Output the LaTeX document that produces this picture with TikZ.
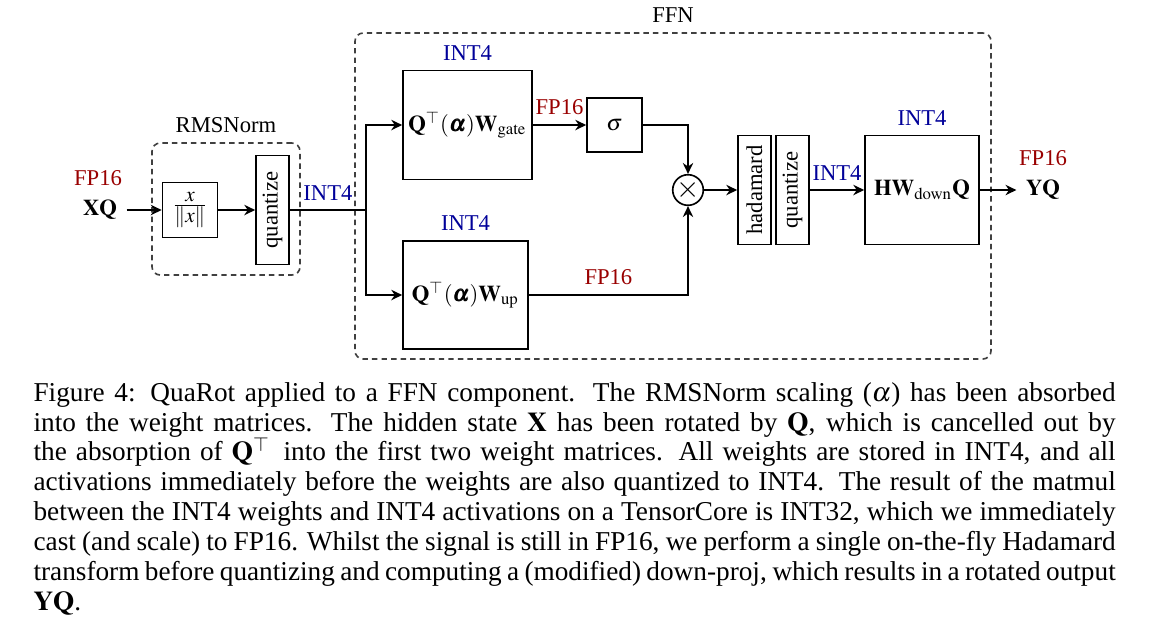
\documentclass[tikz,border=0pt]{standalone}
\usepackage{mathptmx}
\usepackage{bm}
\usepackage{graphicx}
\usepackage{fontspec}
\setmainfont{Liberation Serif}
\usetikzlibrary{arrows.meta,positioning}

\colorlet{fpred}{red!60!black}
\colorlet{intblue}{blue!60!black}
\def\pxu{0.0129cm}
\newcommand\capline[1]{\hbox to 397pt{#1}}

\begin{document}
\begin{tikzpicture}[x=0.0129cm, y=-0.0129cm,
    font=\fontsize{8.3}{10}\selectfont,
    box/.style={draw, semithick, inner sep=0pt},
    flow/.style={semithick, -{Stealth[length=4pt, width=3.8pt, inset=1.3pt]}},
    fp/.style={text=fpred},
    int/.style={text=intblue},
    group/.style={draw=black!75, semithick, dash pattern=on 2pt off 1.5pt,
        rounded corners=3pt, inner sep=0pt}]
    \useasboundingbox (0,0) rectangle (1155,625);

    % Dashed groups: RMSNorm and FFN
    \node[group, minimum width=148*\pxu, minimum height=132*\pxu] (rmsbox) at (226,209) {};
    \node[above=0pt of rmsbox] (rmslabel) {RMSNorm};
    \node[group, minimum width=636*\pxu, minimum height=326*\pxu] (ffnbox) at (673,196) {};
    \node[above=0pt of ffnbox] (ffnlabel) {FFN};

    % Input
    \node[fp] (xqfmt) at (98,178) {FP16};
    \node (xq) at (100,210) {$\mathbf{XQ}$};

    % RMSNorm blocks
    \node[box, minimum width=55*\pxu, minimum height=55*\pxu, font=\fontsize{10.5}{12}\selectfont]
        (norm) at (190,210) {$\frac{x}{\|x\|}$};
    \node[box, minimum width=33*\pxu, minimum height=109*\pxu] (quant1) at (272.5,210) {\rotatebox{90}{quantize}};
    \coordinate (split) at (366,210);

    % Gate and up projections
    \node[box, minimum width=129*\pxu, minimum height=109*\pxu] (gate) at (467.5,125)
        {$\mathbf{Q}^{\top}(\bm{\alpha})\mathbf{W}_{\mathrm{gate}}$};
    \node[int, above=0pt of gate] (gatefmt) {INT4};
    \node[box, minimum width=125*\pxu, minimum height=108*\pxu] (up) at (465.5,295)
        {$\mathbf{Q}^{\top}(\bm{\alpha})\mathbf{W}_{\mathrm{up}}$};
    \node[int, above=0pt of up] (upfmt) {INT4};
    \node[box, minimum width=55*\pxu, minimum height=54*\pxu] (sigma) at (614.5,125) {$\sigma$};

    % Product, hadamard, quantize and down projection
    \node[draw, semithick, circle, minimum size=21*\pxu, inner sep=0pt,
        font=\fontsize{11}{11}\selectfont] (mult) at (688,190) {$\times$};
    \node[box, minimum width=33*\pxu, minimum height=109*\pxu] (had) at (754.5,190) {\rotatebox{90}{hadamard}};
    \node[box, minimum width=33*\pxu, minimum height=109*\pxu] (quant2) at (792.5,190) {\rotatebox{90}{quantize}};
    \node[box, minimum width=114*\pxu, minimum height=109*\pxu] (down) at (922,190)
        {$\mathbf{H}\mathbf{W}_{\mathrm{down}}\mathbf{Q}$};
    \node[int, above=0pt of down] (downfmt) {INT4};

    % Output
    \node[fp] (yqfmt) at (1043,158) {FP16};
    \node (yq) at (1043,190) {$\mathbf{YQ}$};

    % Connectors
    \draw[flow] (xq.east) -- (norm.west);
    \draw[flow] (norm) -- (quant1);
    \draw[semithick] (quant1.east) -- node[int, above] (q1fmt) {INT4} (split);
    \draw[flow] (split) |- (gate.west);
    \draw[flow] (split) |- (up.west);
    \draw[flow] (gate) -- node[fp, above] (sigfmt) {FP16} (sigma);
    \draw[flow] (sigma.east) -| (mult.north);
    \draw[flow] (up.east) -| node[fp, above, pos=0.25] (multfmt) {FP16} (mult.south);
    \draw[flow] (mult) -- (had);
    \draw[flow] (quant2) -- node[int, above] (q2fmt) {INT4} (down);
    \draw[flow] (down) -- (yq);

    % Caption
    \node[anchor=base west, inner sep=0pt] (caption) at (33,401) {\parbox[t]{397pt}{%
        \fontsize{10}{11}\selectfont
        \capline{Figure 4: QuaRot applied to a FFN component. The RMSNorm scaling ($\alpha$) has been absorbed}
        \capline{into the weight matrices. The hidden state $\mathbf{X}$ has been rotated by $\mathbf{Q}$, which is cancelled out by}
        \capline{the absorption of $\mathbf{Q}^\top$\, into the first two weight matrices. All weights are stored in INT4, and all}
        \capline{activations immediately before the weights are also quantized to INT4. The result of the matmul}
        \capline{between the INT4 weights and INT4 activations on a TensorCore is INT32, which we immediately}
        \capline{cast (and scale) to FP16. Whilst the signal is still in FP16, we perform a single on-the-fly Hadamard}
        \capline{transform before quantizing and computing a (modified) down-proj, which results in a rotated output}
        \hbox{$\mathbf{YQ}$.}}};

\end{tikzpicture}
\end{document}
